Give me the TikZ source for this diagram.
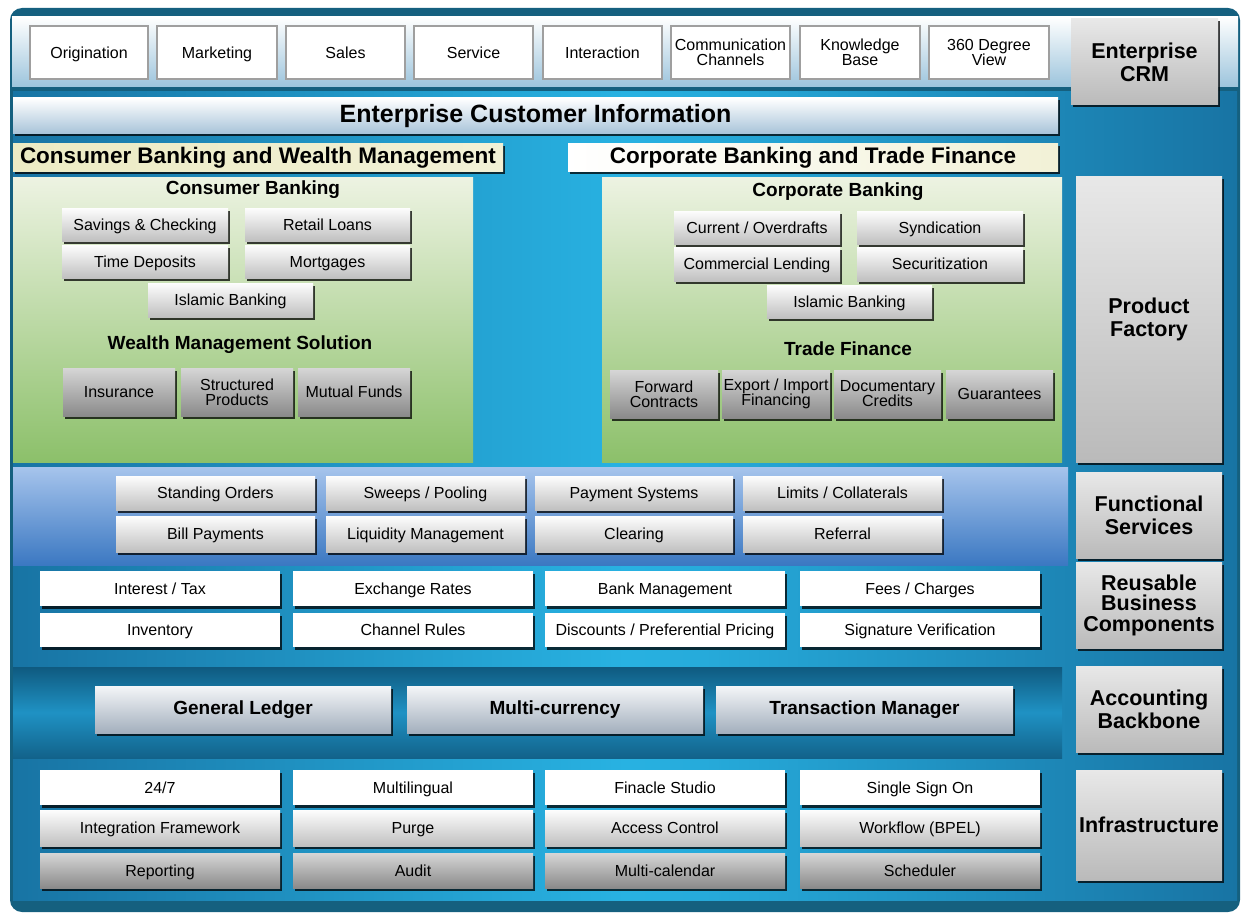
\documentclass[tikz,border=0pt]{standalone}
\usepackage{fontspec}
\setmainfont{Liberation Sans}
\usetikzlibrary{shadows}
\definecolor{frame}{HTML}{15607F}
\definecolor{cyanmid}{HTML}{28B2E2}
\definecolor{cyanedge}{HTML}{1874A4}
\definecolor{greentop}{HTML}{EDF3E2}
\definecolor{greenbot}{HTML}{8CC06A}
\definecolor{functop}{HTML}{A6C4EC}
\definecolor{funcbot}{HTML}{3B78C2}
\definecolor{acctop}{HTML}{0F5A80}
\definecolor{accmid}{HTML}{1F92C4}
\definecolor{accbot}{HTML}{12628A}
\definecolor{lgtop}{HTML}{FDFDFD}
\definecolor{lgbot}{HTML}{C0C0C0}
\definecolor{dgtop}{HTML}{D6D6D6}
\definecolor{dgbot}{HTML}{8A8A8A}
\definecolor{rltop}{HTML}{E8E8E8}
\definecolor{rlbot}{HTML}{BABABA}
\definecolor{abtop}{HTML}{F4F6F8}
\definecolor{abbot}{HTML}{A3AFBD}
\definecolor{ecibot}{HTML}{A7C3D9}
\definecolor{crmbot}{HTML}{9CC4DC}
\definecolor{hdryel}{HTML}{ECEBC4}
\definecolor{hdrlite}{HTML}{F2F1D6}
\newcommand\bx[7]{%
  \node[#6, minimum width={(#4-#2)*1pt}, minimum height={(#5-#3)*1pt}] (#1) at ({(#2+#4)/2},{(#3+#5)/2}) {#7};}
\tikzset{
  base/.style={inner sep=1pt, outer sep=0pt, align=center, text=black},
  sm/.style={font=\fontsize{16}{15}\selectfont},
  one/.style={text height=13pt, text depth=1.5pt},
  shad/.style={drop shadow={shadow xshift=2pt, shadow yshift=-2.5pt, fill=black, opacity=.75}},
  crmb/.style={base, sm, fill=white, draw=gray!75, line width=1.2pt},
  crm/.style={crmb, one},
  lg/.style={base, sm, one, top color=lgtop, bottom color=lgbot, shad},
  dgb/.style={base, sm, top color=dgtop, bottom color=dgbot, shad},
  dg/.style={dgb, one},
  wb/.style={base, sm, one, fill=white, shad},
  rl/.style={base, font=\bfseries\fontsize{21.5}{23}\selectfont, top color=rltop, bottom color=rlbot, shad},
  ab/.style={base, font=\bfseries\fontsize{19}{22}\selectfont, top color=abtop, bottom color=abbot, shad},
  sub/.style={base, font=\bfseries\fontsize{19}{22}\selectfont},
}
\begin{document}
\begin{tikzpicture}[x=1pt,y=-1pt]
\useasboundingbox (0,0) rectangle (1245,915);
% frame and background
\fill[frame, rounded corners=12pt] (10,8) rectangle (1240,912);
\shade[left color=cyanedge, right color=cyanedge, middle color=cyanmid] (13,92) rectangle (1237,900);
\shade[top color=white, bottom color=crmbot] (12,17) rectangle (1238,87);
% panels and bands
\shade[top color=greentop, bottom color=greenbot] (13,177) rectangle (473,462);
\shade[top color=greentop, bottom color=greenbot] (602,177) rectangle (1062,462);
\shade[top color=functop, bottom color=funcbot] (13,467) rectangle (1068,565);
\shade[top color=acctop, bottom color=accbot, middle color=accmid] (13,667) rectangle (1062,758);
% CRM row
\bx{orig}{30}{26}{148}{79}{crm}{Origination}
\bx{mkt}{157}{26}{277}{79}{crm}{Marketing}
\bx{sales}{286}{26}{405}{79}{crm}{Sales}
\bx{serv}{414}{26}{533}{79}{crm}{Service}
\bx{inter}{543}{26}{662}{79}{crm}{Interaction}
\bx{comm}{671}{26}{790}{79}{crmb}{Communication\\Channels}
\bx{know}{800}{26}{920}{79}{crmb}{Knowledge\\Base}
\bx{view}{929}{26}{1049}{79}{crmb}{360 Degree\\View}
\bx{ecrm}{1071}{19}{1218}{105}{rl}{Enterprise\\CRM}
% Enterprise customer information
\bx{eci}{13}{98}{1058}{134}{base, font=\bfseries\fontsize{25}{28}\selectfont, top color=white, bottom color=ecibot, shad}{Enterprise Customer Information}
% headers
\node[base, left color=hdryel, right color=hdrlite, minimum width=490pt, minimum height=27pt, shad] (hl) at (258,157.5) {};
\node[base, anchor=west, font=\bfseries\fontsize{22.5}{24}\selectfont] (hlt) at (19,157.5) {Consumer Banking and Wealth Management};
\bx{hr}{568}{144}{1058}{171}{base, font=\bfseries\fontsize{22.5}{24}\selectfont, left color=white, right color=hdrlite, shad}{Corporate Banking and Trade Finance}
% consumer banking
\node[sub] (cbt) at (253,190) {Consumer Banking};
\bx{sav}{62}{208}{228}{241}{lg}{Savings \& Checking}
\bx{rloan}{245}{208}{410}{241}{lg}{Retail Loans}
\bx{tdep}{62}{245}{228}{278}{lg}{Time Deposits}
\bx{mort}{245}{245}{410}{278}{lg}{Mortgages}
\bx{isl1}{148}{283}{313}{317}{lg}{Islamic Banking}
\node[sub] (wmt) at (240,345) {Wealth Management Solution};
\bx{ins}{63}{368}{175}{416}{dg}{Insurance}
\bx{struct}{181}{368}{293}{416}{dgb}{Structured\\Products}
\bx{mf}{298}{368}{410}{416}{dg}{Mutual Funds}
% corporate banking
\node[sub] (cbk) at (838,192) {Corporate Banking};
\bx{cur}{674}{211}{840}{244}{lg}{Current / Overdrafts}
\bx{synd}{857}{211}{1023}{244}{lg}{Syndication}
\bx{cl}{674}{247}{840}{281}{lg}{Commercial Lending}
\bx{sec}{857}{247}{1023}{281}{lg}{Securitization}
\bx{isl2}{767}{285}{932}{318}{lg}{Islamic Banking}
\node[sub] (tft) at (848,349) {Trade Finance};
\bx{fwd}{610}{370}{718}{418}{dgb}{Forward\\Contracts}
\bx{exp}{722}{370}{830}{418}{dgb}{Export / Import\\Financing}
\bx{doc}{834}{370}{941}{418}{dgb}{Documentary\\Credits}
\bx{guar}{946}{370}{1053}{418}{dg}{Guarantees}
\bx{pf}{1076}{176}{1222}{462}{rl}{Product\\Factory}
% functional services
\bx{so}{116}{476}{315}{510}{lg}{Standing Orders}
\bx{sw}{326}{476}{525}{510}{lg}{Sweeps / Pooling}
\bx{ps}{535}{476}{733}{510}{lg}{Payment Systems}
\bx{lc}{743}{476}{942}{510}{lg}{Limits / Collaterals}
\bx{bp}{116}{516}{315}{552}{lg}{Bill Payments}
\bx{lm}{326}{516}{525}{552}{lg}{Liquidity Management}
\bx{clr}{535}{516}{733}{552}{lg}{Clearing}
\bx{ref}{743}{516}{942}{552}{lg}{Referral}
\bx{fs}{1076}{472}{1222}{558}{rl}{Functional\\Services}
% reusable business components
\bx{it}{40}{571}{280}{606}{wb}{Interest / Tax}
\bx{er}{293}{571}{533}{606}{wb}{Exchange Rates}
\bx{bm}{545}{571}{785}{606}{wb}{Bank Management}
\bx{fc}{800}{571}{1040}{606}{wb}{Fees / Charges}
\bx{inv}{40}{613}{280}{647}{wb}{Inventory}
\bx{cr}{293}{613}{533}{647}{wb}{Channel Rules}
\bx{dpp}{545}{613}{785}{647}{wb}{Discounts / Preferential Pricing}
\bx{sv}{800}{613}{1040}{647}{wb}{Signature Verification}
\bx{rbc}{1076}{562}{1222}{648}{rl, font=\bfseries\fontsize{21.5}{20.5}\selectfont}{Reusable\\Business\\Components}
% accounting backbone
\bx{gl}{95}{686}{391}{733}{ab}{General Ledger}
\bx{mc}{407}{686}{703}{733}{ab}{Multi-currency}
\bx{tm}{716}{686}{1013}{733}{ab}{Transaction Manager}
\bx{acb}{1076}{666}{1222}{752}{rl}{Accounting\\Backbone}
% infrastructure
\bx{i247}{40}{770}{280}{805}{wb}{24/7}
\bx{ml}{293}{770}{533}{805}{wb}{Multilingual}
\bx{fst}{545}{770}{785}{805}{wb}{Finacle Studio}
\bx{sso}{800}{770}{1040}{805}{wb}{Single Sign On}
\bx{ifw}{40}{810}{280}{846}{lg}{Integration Framework}
\bx{pur}{293}{810}{533}{846}{lg}{Purge}
\bx{ac}{545}{810}{785}{846}{lg}{Access Control}
\bx{wf}{800}{810}{1040}{846}{lg}{Workflow (BPEL)}
\bx{rep}{40}{853}{280}{888}{dg}{Reporting}
\bx{aud}{293}{853}{533}{888}{dg}{Audit}
\bx{mcal}{545}{853}{785}{888}{dg}{Multi-calendar}
\bx{sch}{800}{853}{1040}{888}{dg}{Scheduler}
\bx{infra}{1076}{770}{1222}{880}{rl}{Infrastructure}
\end{tikzpicture}
\end{document}
